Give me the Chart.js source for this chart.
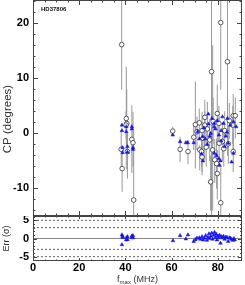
<!DOCTYPE html>
<html>
<head>
<meta charset="utf-8">
<script src="https://cdn.jsdelivr.net/npm/chart.js@4.4.0/dist/chart.umd.min.js"></script>
<style>
  html, body { margin: 0; padding: 0; background: #fff; }
  #wrap { position: relative; width: 245px; height: 285px; }
  canvas { position: absolute; left: 0; }
  #cpChart { top: 0; }
  #errChart { top: 216px; }
</style>
</head>
<body>
<div id="wrap">
  <canvas id="cpChart" width="245" height="216"></canvas>
  <canvas id="errChart" width="245" height="69"></canvas>
</div>
<script>
// measured closure phases (open circles) and their error bar limits
const obsFreq = [38.4, 40.4, 40.6, 42.8, 43.3, 43.6, 38.2, 38.6, 40.9, 40.3,
  60.5, 63.7, 67.1, 70.3, 69.6, 72.2, 73.2, 74.4, 73.2, 77.3,
  76.9, 81.3, 84.2, 79.8, 86.7, 87.6, 74.4, 71.0, 82.0, 86.7,
  78.7, 79.5, 79.8, 81.3, 73.0, 73.6, 75.5, 76.5, 80.5, 83.0,
  85.0, 86.5, 78.0, 75.0, 77.8, 82.6, 84.6, 80.6, 72.0];
const obsCP = [16.1, 2.7, 1.8, -1.1, -1.7, -12.1, -2.9, -6.4, -3.3, 1.5,
  0.4, -2.9, -3.3, 1.6, -0.7, -3.0, 0.5, 2.9, -4.3, 11.2,
  -8.8, 20.1, 13.0, 3.6, 3.2, 3.2, 1.5, 0.3, -1.5, -3.3,
  -4.8, -5.5, -7.3, -12.6, -3.3, -0.9, 0.8, -1.2, 1.8, 0.5,
  2.3, 1.5, 2.2, -2.5, -3.0, -2.8, -1.9, -1.8, 1.9];
const obsLow = [7.9, -6.5, -4, -7.2, -6, -20, -6.5, -10.6, -8.2, -1,
  -0.3, -5.2, -5.6, -6.4, -3.0, -6.7, -7.6, -4.9, -7.0, -16,
  -14, 7.9, -4, -2, -4, -1, -3, -3, -5, -7,
  -9, -10, -12, -20, -6, -4, -2.5, -5, -1.5, -3,
  -1, -2, -2, -6, -14, -6, -5.5, -6, -1];
const obsHigh = [30, 12.1, 8, 5.1, 3.9, 0.5, 0.5, -3.0, 0, 4,
  1.2, -0.6, -1.2, 9.4, 1.5, -2.1, 3.9, 6.1, -2.0, 30,
  -4, 30, 30, 8.8, 7.1, 6.5, 4, 3, 2, 0,
  -1, -1, -3, -6, -0.5, 2, 5.7, 2.5, 5, 4,
  5.5, 5, 6.5, 1, 16, 0.5, 1.5, 3, 4.5];

// model closure phases (blue triangles)
const modelFreq = [38.5, 38.5, 40.4, 40.4, 42.8, 42.8, 38.8, 38.8, 40.9, 40.9, 43.3, 43.3,
  60.5, 63.7, 66.2, 67.0, 69.6, 71.3, 73.4, 73.0, 73.6, 75.9,
  84.2, 88.0, 79.8, 78.5, 79.0, 77.5, 78.5, 80.5, 81.5, 82.5,
  83.5, 85.5, 86.0, 86.8, 86.8, 78.5, 79.5, 80.5, 81.2, 80.8,
  74.5, 75.5, 76.5, 77.0, 72.0, 74.0, 83.0, 84.5, 81.5, 76.0, 82.0, 84.0];
const modelCP = [1.5, 0.5, 1.2, 0.3, 1.2, 0.8, -2.6, -3.5, -2.4, -3.4, -2.6, -2.9,
  -0.3, -1.5, -1.7, -1.7, -1.7, 0.3, -0.6, -3.7, -5.0, 3.5,
  2.7, 1.2, 2.3, 1.2, 0.8, 2.7, 1.8, -0.3, 0.5, 1.8,
  -0.5, 1.5, -5.2, -3.6, 2.1, -3.6, -4.0, -4.6, -5.0, -5.8,
  -1.0, -2.0, -0.5, 0.0, -1.0, 1.0, -2.4, -1.8, -1.4, 1.7, 3.0, 0.2];

// residuals in units of sigma
const resFreq = [38.5, 38.5, 38.8, 38.8, 40.4, 40.4, 40.9, 40.9, 42.8, 42.8, 43.3, 43.3,
  60.6, 63.7, 66.2, 67.1, 69.6, 70.3, 71.0, 72.0, 72.5, 73.2,
  73.6, 74.2, 74.8, 75.3, 75.8, 76.2, 76.5, 77.0, 77.4, 77.8,
  78.2, 78.6, 79.0, 79.3, 79.7, 80.0, 80.4, 80.8, 81.2, 81.6,
  82.0, 82.5, 83.0, 83.5, 84.0, 84.5, 85.0, 85.5, 86.0, 86.5, 87.0, 87.3];
const resErr = [1.0, -1.7, 0.6, 0.3, -0.4, 0.2, -0.3, 0.5, 0.3, 0.7, 0.2, 0.8,
  -0.6, 0.8, -0.1, 1.0, -0.8, -0.3, 0.1, 0.2, -0.2, 0.5,
  -0.4, 0.1, 0.8, -0.5, 0.3, 1.3, 0.0, 0.6, 1.5, -0.2,
  0.9, 1.7, 0.3, 1.2, -0.4, 0.7, 0.2, 0.9, -1.3, 0.5,
  0.2, 0.6, -0.2, 0.4, 0.3, -0.8, 0.2, 0.1, -0.2, -0.5, 0.0, -0.4];

const refLevels = [-5, -3, 3, 5];
const xMin = 0, xMax = 90.5;

// frame with inward ticks on all four sides, IDL style
const frameTicks = {
  id: 'frameTicks',
  afterDatasetsDraw(chart, args, o) {
    const { ctx, chartArea: a, scales: { x, y } } = chart;
    ctx.save();
    ctx.strokeStyle = '#444';
    ctx.lineWidth = 1;
    ctx.strokeRect(a.left + 0.5, a.top + 0.5, a.right - a.left - 1, a.bottom - a.top - 1);
    ctx.beginPath();
    for (let v = Math.ceil(x.min / o.xMinor) * o.xMinor; v <= x.max; v += o.xMinor) {
      const px = Math.round(x.getPixelForValue(v)) + 0.5;
      const len = Math.abs(v % o.xMajor) < 1e-6 ? o.xLen[0] : o.xLen[1];
      ctx.moveTo(px, a.bottom); ctx.lineTo(px, a.bottom - len);
      ctx.moveTo(px, a.top); ctx.lineTo(px, a.top + len);
    }
    for (let v = Math.ceil(y.min / o.yMinor) * o.yMinor; v <= y.max; v += o.yMinor) {
      const py = Math.round(y.getPixelForValue(v)) + 0.5;
      const len = Math.abs(v % o.yMajor) < 1e-6 ? o.yLen[0] : o.yLen[1];
      ctx.moveTo(a.left, py); ctx.lineTo(a.left + len, py);
      ctx.moveTo(a.right, py); ctx.lineTo(a.right - len, py);
    }
    ctx.stroke();
    ctx.restore();
  }
};

// free text: titles and star name
const texts = {
  id: 'texts',
  afterDraw(chart, args, o) {
    const ctx = chart.ctx;
    (o.items || []).forEach(t => {
      ctx.save();
      ctx.translate(t.x, t.y);
      ctx.rotate(t.rot || 0);
      ctx.fillStyle = t.color || '#222';
      ctx.textBaseline = 'middle';
      const parts = t.parts || [{ text: t.text, font: t.font, dy: 0 }];
      let total = 0;
      parts.forEach(p => { ctx.font = p.font; total += ctx.measureText(p.text).width; });
      let cx = t.align === 'left' ? 0 : -total / 2;
      ctx.textAlign = 'left';
      parts.forEach(p => {
        ctx.font = p.font;
        ctx.fillText(p.text, cx, p.dy || 0);
        cx += ctx.measureText(p.text).width;
      });
      ctx.restore();
    });
  }
};

const tickFont = { family: 'Liberation Sans', size: 11, weight: 'bold' };

function fixY(s) {
  s.width = 33;
  s.paddingTop = 0;
  s.paddingBottom = 0;
}

new Chart(document.getElementById('cpChart'), {
  type: 'scatter',
  data: {
    datasets: [
      {
        type: 'bar',
        data: obsFreq.map((f, i) => ({ x: f, y: [obsLow[i], obsHigh[i]] })),
        backgroundColor: '#999',
        borderWidth: 0,
        inflateAmount: 0,
        barThickness: 1,
        order: 3
      },
      {
        data: obsFreq.map((f, i) => ({ x: f, y: obsCP[i] })),
        pointStyle: 'circle',
        pointRadius: 2.3,
        borderColor: '#333',
        backgroundColor: '#fff',
        borderWidth: 0.8,
        order: 2
      },
      {
        data: modelFreq.map((f, i) => ({ x: f, y: modelCP[i] })),
        pointStyle: 'triangle',
        pointRadius: 2.1,
        backgroundColor: '#1414ff',
        borderColor: '#1414ff',
        borderWidth: 0.5,
        order: 1
      }
    ]
  },
  options: {
    responsive: false,
    animation: false,
    devicePixelRatio: 1,
    layout: { padding: { left: 0, right: 3, top: 0, bottom: 0 }, autoPadding: false },
    plugins: {
      legend: { display: false },
      tooltip: { enabled: false },
      frameTicks: { xMajor: 20, xMinor: 5, yMajor: 10, yMinor: 2, xLen: [5, 2.5], yLen: [5, 2.5] },
      texts: {
        items: [
          { text: 'CP (degrees)', font: '11.5px "Liberation Sans"', x: 8, y: 119, rot: -Math.PI / 2, color: '#333' },
          { text: 'HD37806', font: 'bold 6px "Liberation Sans"', x: 41, y: 9.5, align: 'left', color: '#111' }
        ]
      }
    },
    scales: {
      x: { type: 'linear', min: xMin, max: xMax, offset: false, display: false },
      y: {
        min: -15, max: 24.2,
        grid: { display: false, drawTicks: false },
        border: { display: false },
        ticks: { stepSize: 10, includeBounds: false, color: '#000', font: tickFont, padding: 4 },
        afterFit: fixY
      }
    }
  },
  plugins: [frameTicks, texts]
});

const refSets = refLevels.map(l => ({
  type: 'line',
  data: [{ x: xMin, y: l }, { x: xMax, y: l }],
  borderColor: '#666',
  borderWidth: 1,
  borderDash: [2, 2],
  pointRadius: 0,
  order: 3
}));

new Chart(document.getElementById('errChart'), {
  type: 'scatter',
  data: {
    datasets: refSets.concat([
      {
        type: 'line',
        data: [{ x: xMin, y: 0 }, { x: xMax, y: 0 }],
        borderColor: '#888',
        borderWidth: 1,
        pointRadius: 0,
        order: 2
      },
      {
        data: resFreq.map((f, i) => ({ x: f, y: resErr[i] })),
        pointStyle: 'triangle',
        pointRadius: 2.1,
        backgroundColor: '#1414ff',
        borderColor: '#1414ff',
        borderWidth: 0.5,
        order: 1
      }
    ])
  },
  options: {
    responsive: false,
    animation: false,
    devicePixelRatio: 1,
    layout: { padding: { left: 0, right: 3, top: 0, bottom: 0 }, autoPadding: false },
    plugins: {
      legend: { display: false },
      tooltip: { enabled: false },
      frameTicks: { xMajor: 20, xMinor: 5, yMajor: 5, yMinor: 1, xLen: [3, 1.5], yLen: [4, 2] },
      texts: {
        items: [
          { text: 'Err (\u03c3)', font: '9px "Liberation Sans"', x: 7, y: 22.5, rot: -Math.PI / 2, color: '#333' },
          {
            x: 137.5, y: 64, color: '#333',
            parts: [
              { text: 'f', font: '9px "Liberation Sans"', dy: 0 },
              { text: 'max', font: '6px "Liberation Sans"', dy: 2 },
              { text: ' (MHz)', font: '9px "Liberation Sans"', dy: 0 }
            ]
          }
        ]
      }
    },
    scales: {
      x: {
        type: 'linear', min: xMin, max: xMax, offset: false,
        grid: { display: false, drawTicks: false },
        border: { display: false },
        ticks: { stepSize: 20, includeBounds: false, color: '#000', font: tickFont, padding: 0 },
        afterFit(s) { s.height = 24; s.paddingLeft = 0; s.paddingRight = 0; }
      },
      y: {
        min: -6.2, max: 6.2,
        grid: { display: false, drawTicks: false },
        border: { display: false },
        ticks: { stepSize: 5, includeBounds: false, color: '#000', font: tickFont, padding: 4 },
        afterFit: fixY
      }
    }
  },
  plugins: [frameTicks, texts]
});
</script>
</body>
</html>
